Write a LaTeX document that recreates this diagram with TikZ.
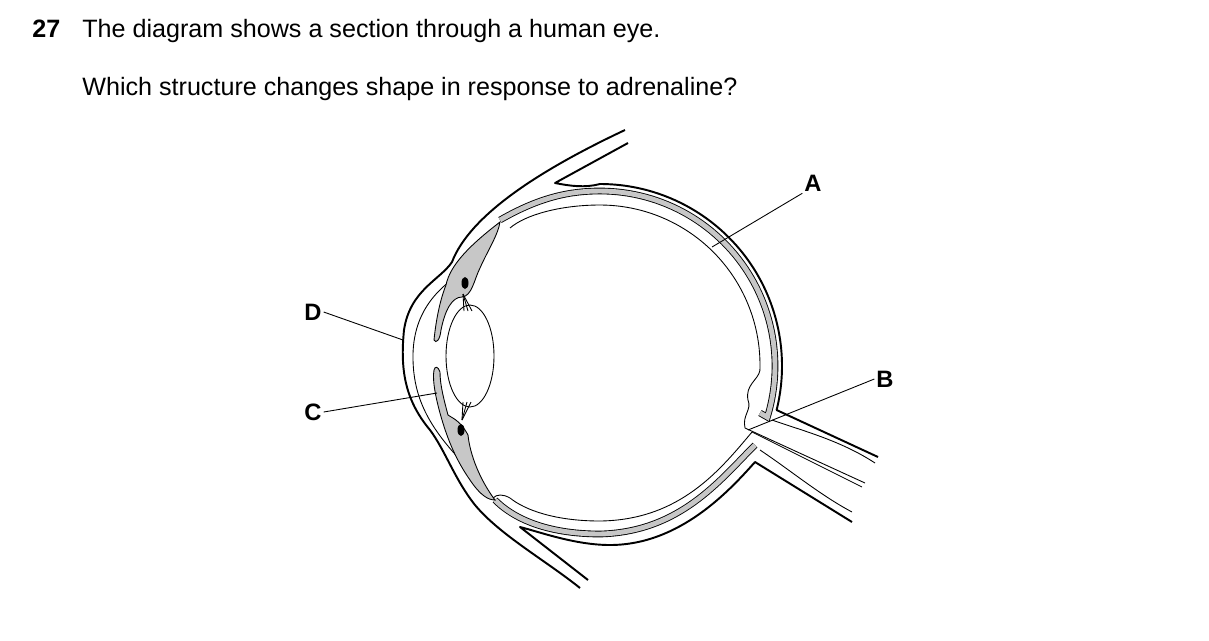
\documentclass[tikz,border=0pt]{standalone}
\usepackage{fontspec}
\setmainfont{Liberation Sans}
\usetikzlibrary{positioning}
\tikzset{
  lbl/.style = {font=\fontsize{13.5}{16}\selectfont\bfseries, inner sep=1pt},
  txt/.style = {font=\fontsize{14.3}{17}\selectfont, anchor=base west, inner sep=0pt},
  heavy/.style = {line width=1.1pt, line join=round},
  fine/.style = {line width=0.5pt},
  band/.style = {line width=0.5pt, double=black!22, double distance=2.8pt},
  pointer/.style = {line width=0.5pt}
}
\begin{document}
\begin{tikzpicture}[x=0.02cm,y=-0.02cm]
\useasboundingbox (0,0) rectangle (1209,640);
% question text
\node[txt] (num) at (32,37) {\bfseries 27};
\node[txt] (q1) at (82,37) {The diagram shows a section through a human eye.};
\node[txt] (q2) at (82,95) {Which structure changes shape in response to adrenaline?};
% eyelids and cornea (outer line)
\draw[heavy] (625,130) .. controls (540,170) and (470,215) .. (452,262)
  .. controls (440,280) and (410,290) .. (404,330)
  .. controls (400,370) and (405,400) .. (430,430)
  .. controls (445,450) and (455,480) .. (475,505)
  .. controls (500,535) and (545,560) .. (580,588);
\draw[heavy] (628,143) -- (555,183) .. controls (570,186) and (585,188) .. (600,184);
\draw[heavy] (588,580) -- (520,527) .. controls (540,532) and (575,545) .. (610,545);
% sclera
\draw[heavy] (600,184) arc[start angle=-90, end angle=14, radius=182] -- (878,457);
\draw[heavy] (852,522) -- (755,462) .. controls (730,490) and (680,545) .. (610,545);
% cornea inner line
\draw[fine] (470,268) .. controls (430,290) and (412,320) .. (413,360)
  .. controls (414,400) and (430,430) .. (470,470);
% choroid band
\draw[band] (500,220) .. controls (540,197) and (570,191) .. (600,191)
  arc[start angle=-90, end angle=17, radius=175] -- (760,413);
\draw[band] (755,445) .. controls (720,480) and (680,532) .. (600,534)
  .. controls (560,534) and (520,525) .. (495,500);
% ciliary bodies and iris
\path[fill=black!22, draw=black, fine] (500,222) .. controls (470,245) and (450,265) .. (446,285)
  .. controls (440,300) and (436,320) .. (434,340) .. controls (436,344) and (440,340) .. (441,330)
  .. controls (445,310) and (452,297) .. (462,297) .. controls (472,296) and (474,280) .. (480,268)
  .. controls (488,250) and (498,235) .. cycle;
\path[fill=black!22, draw=black, fine] (434,370) .. controls (432,380) and (436,400) .. (442,420)
  .. controls (448,440) and (456,460) .. (470,480) .. controls (480,495) and (488,500) .. (495,500)
  .. controls (480,480) and (470,455) .. (468,435) .. controls (460,420) and (452,418) .. (448,415)
  .. controls (444,400) and (440,385) .. (440,372) .. controls (438,366) and (435,366) .. cycle;
\fill (465,283) ellipse[x radius=3.5, y radius=6];
\fill (461,430) ellipse[x radius=3.5, y radius=6];
% suspensory ligaments
\foreach \dx in {-4,0,4}{
  \draw[fine] (463,294) -- (468+\dx,311);
  \draw[fine] (462,420) -- (467+\dx,402);
}
% lens
\draw[fine] (470,356) ellipse[x radius=24, y radius=51];
% retina
\draw[fine] (510,228) .. controls (525,215) and (560,205) .. (600,205)
  arc[start angle=-90, end angle=2, radius=160]
  .. controls (758,380) and (745,385) .. (748,400) .. controls (752,410) and (742,415) .. (745,428) -- (865,483);
\draw[fine] (862,487) -- (752,432) .. controls (720,470) and (680,520) .. (600,521)
  .. controls (555,521) and (525,510) .. (510,498) .. controls (503,494) and (497,494) .. (493,498);
% optic nerve inner lines
\draw[fine] (772,420) .. controls (800,430) and (840,440) .. (875,463);
\draw[fine] (760,450) .. controls (790,470) and (820,495) .. (852,512);
% labels
\node[lbl] (A) at (813,183) {A};
\node[lbl] (B) at (885,379) {B};
\node[lbl] (C) at (313,412) {C};
\node[lbl] (D) at (313,312) {D};
\coordinate (pA) at (712,247);
\coordinate (pB) at (748,430);
\coordinate (pC) at (437,393);
\coordinate (pD) at (403,340);
\draw[pointer] (A.south west) -- (pA);
\draw[pointer] (B.west) -- (pB);
\draw[pointer] (C.east) -- (pC);
\draw[pointer] (D.east) -- (pD);
\end{tikzpicture}
\end{document}
